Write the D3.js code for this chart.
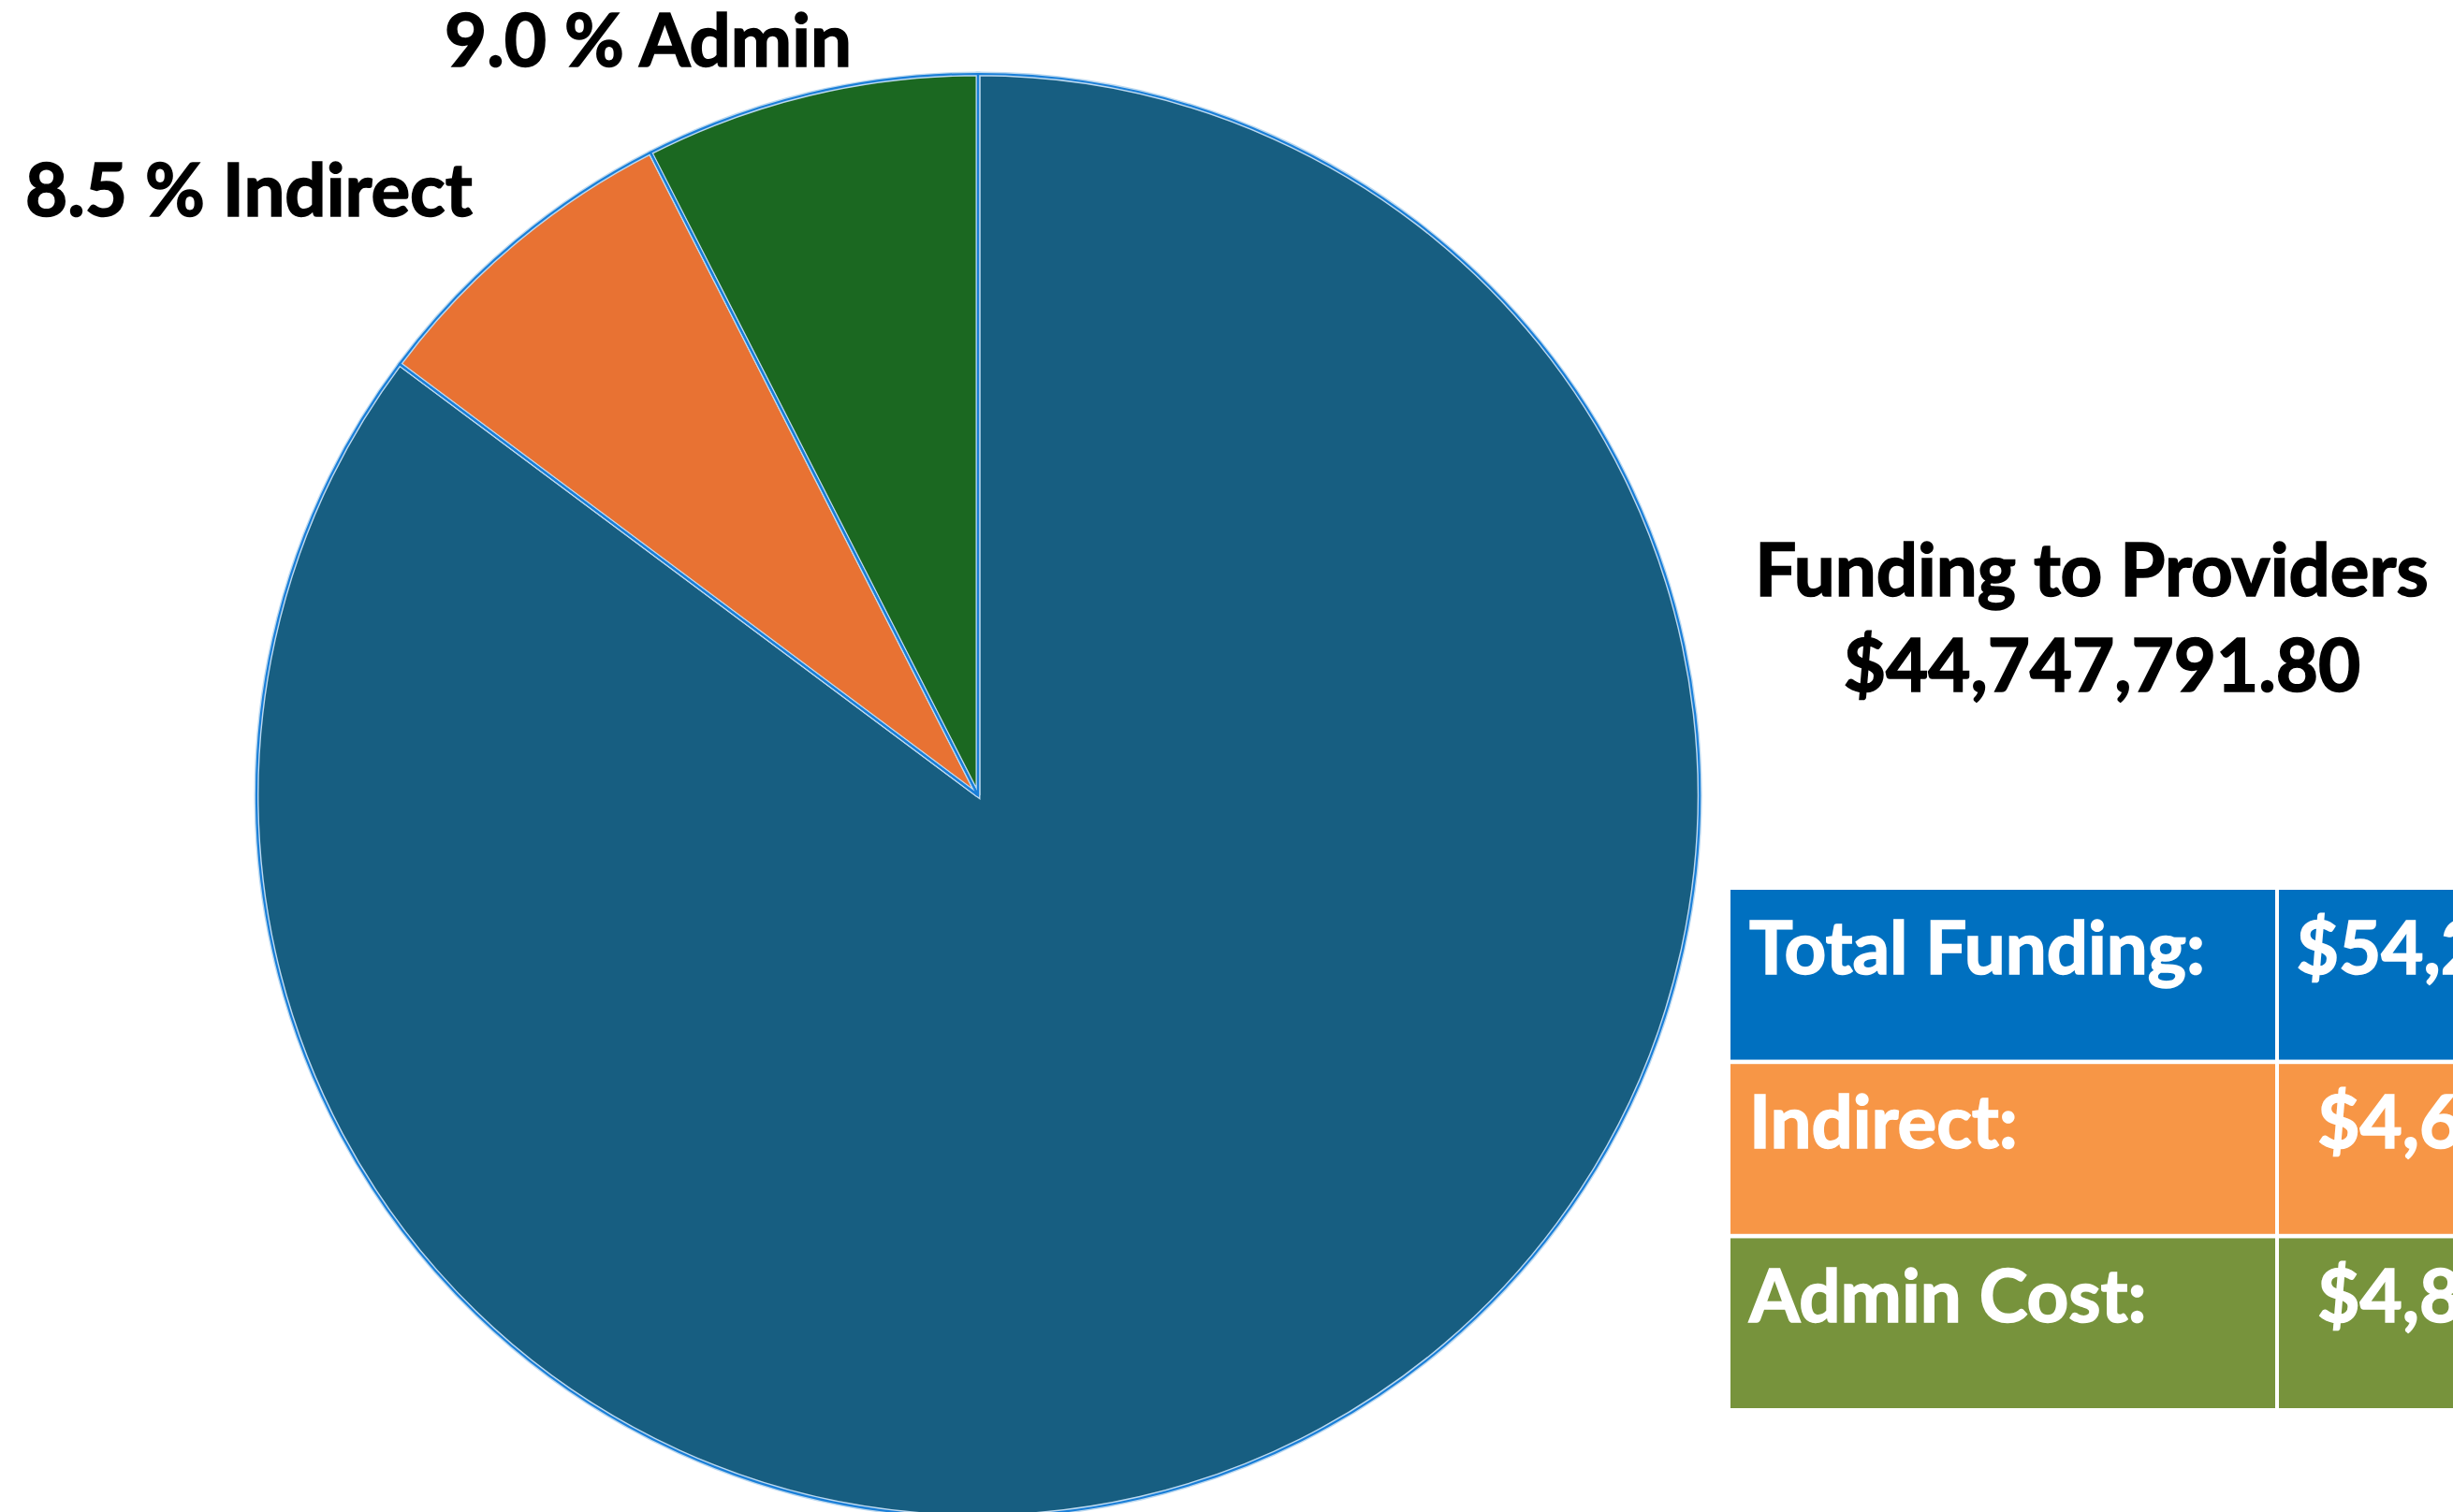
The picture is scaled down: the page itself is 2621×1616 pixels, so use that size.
<!DOCTYPE html>
<html>
<head>
<meta charset="utf-8">
<script src="https://cdn.jsdelivr.net/npm/d3@7"></script>
<style>
  body { margin: 0; background: #fff; overflow: hidden; }
  text { font-family: "Lato", "Open Sans", sans-serif; font-weight: 700; stroke-width: 1.6px; }
</style>
</head>
<body>
<div id="my_dataviz"></div>
<script>
var Width = 2621;
var Height = 1616;

// pie slices, in drawing order (clockwise from 12 o'clock)
var categories = ["Funding to Providers", "Indirect", "Admin"];
var sliceShares = [85.2, 7.3, 7.5];   // share of the circle as drawn
var sliceColors = ["#175e81", "#e87233", "#1b6821"];
var labelPercents = [82.5, 8.5, 9.0];
var labelNames = ["Providers", "Indirect", "Admin"];

var providersValue = 44747791.80;

// table on the right
var tableLabels = ["Total Funding:", "Indirect:", "Admin Cost:"];
var tableValues = [54239747.84, 4610378.65, 4881577.39];
var tableColors = ["#0070c0", "#f79646", "#77933c"];

var svg = d3.select("#my_dataviz")
  .append("svg")
    .attr("width", Width)
    .attr("height", Height);

// ---- pie ----
var cx = 1045, cy = 850, radius = 771;

var pie = d3.pie().sort(null).value(function(d) { return d; });
var arc = d3.arc().innerRadius(0).outerRadius(radius);

var g = svg.append("g")
  .attr("transform", "translate(" + cx + "," + cy + ")");

var slices = g.selectAll("path.slice")
  .data(pie(sliceShares))
  .enter();

slices.append("path")
    .attr("class", "slice")
    .attr("d", arc)
    .style("fill", function(d, i) { return sliceColors[i]; })
    .style("stroke", "#bcd9f0")
    .style("stroke-width", 5);

slices.append("path")
    .attr("d", arc)
    .style("fill", "none")
    .style("stroke", "#1a7fd8")
    .style("stroke-width", 2.2);

// slice labels (only the two small slices are labelled)
var labelPos = [null, [27, 231], [475, 71]];
var fmtPct = d3.format(".1f");
labelPos.forEach(function(p, i) {
  if (!p) return;
  svg.append("text")
    .attr("x", p[0])
    .attr("y", p[1])
    .style("font-size", "78px")
    .style("fill", "#000")
    .style("stroke", "#000")
    .text(fmtPct(labelPercents[i]) + " % " + labelNames[i]);
});

// ---- providers caption ----
var fmtMoney = d3.format("$,.2f");
svg.append("text")
  .attr("x", 2235).attr("y", 637)
  .attr("text-anchor", "middle")
  .style("font-size", "78px")
  .style("stroke", "#000")
  .text(categories[0]);
svg.append("text")
  .attr("x", 2246).attr("y", 739)
  .attr("text-anchor", "middle")
  .style("font-size", "78px")
  .style("stroke", "#000")
  .text(fmtMoney(providersValue));

// ---- table ----
var y = d3.scaleBand()
  .domain(tableLabels)
  .range([951, 1505])
  .paddingInner(0.025);

var col1 = 1849, col2 = 2435, col1W = 582, col2W = 590;

var rows = svg.selectAll("g.row")
  .data(tableLabels)
  .enter()
  .append("g")
    .attr("class", "row");

rows.append("rect")
  .attr("x", col1)
  .attr("y", function(d) { return y(d); })
  .attr("width", col1W)
  .attr("height", y.bandwidth())
  .style("fill", function(d, i) { return tableColors[i]; });

rows.append("rect")
  .attr("x", col2)
  .attr("y", function(d) { return y(d); })
  .attr("width", col2W)
  .attr("height", y.bandwidth())
  .style("fill", function(d, i) { return tableColors[i]; });

rows.append("text")
  .attr("x", col1 + 20)
  .attr("y", function(d) { return y(d) + 90; })
  .style("font-size", "78px")
  .style("fill", "#fff")
  .style("stroke", "#fff")
  .text(function(d) { return d; });

rows.append("text")
  .attr("x", col2 + col2W / 2)
  .attr("y", function(d) { return y(d) + 90; })
  .attr("text-anchor", "middle")
  .style("font-size", "78px")
  .style("fill", "#fff")
  .style("stroke", "#fff")
  .text(function(d, i) { return fmtMoney(tableValues[i]); });
</script>
</body>
</html>
